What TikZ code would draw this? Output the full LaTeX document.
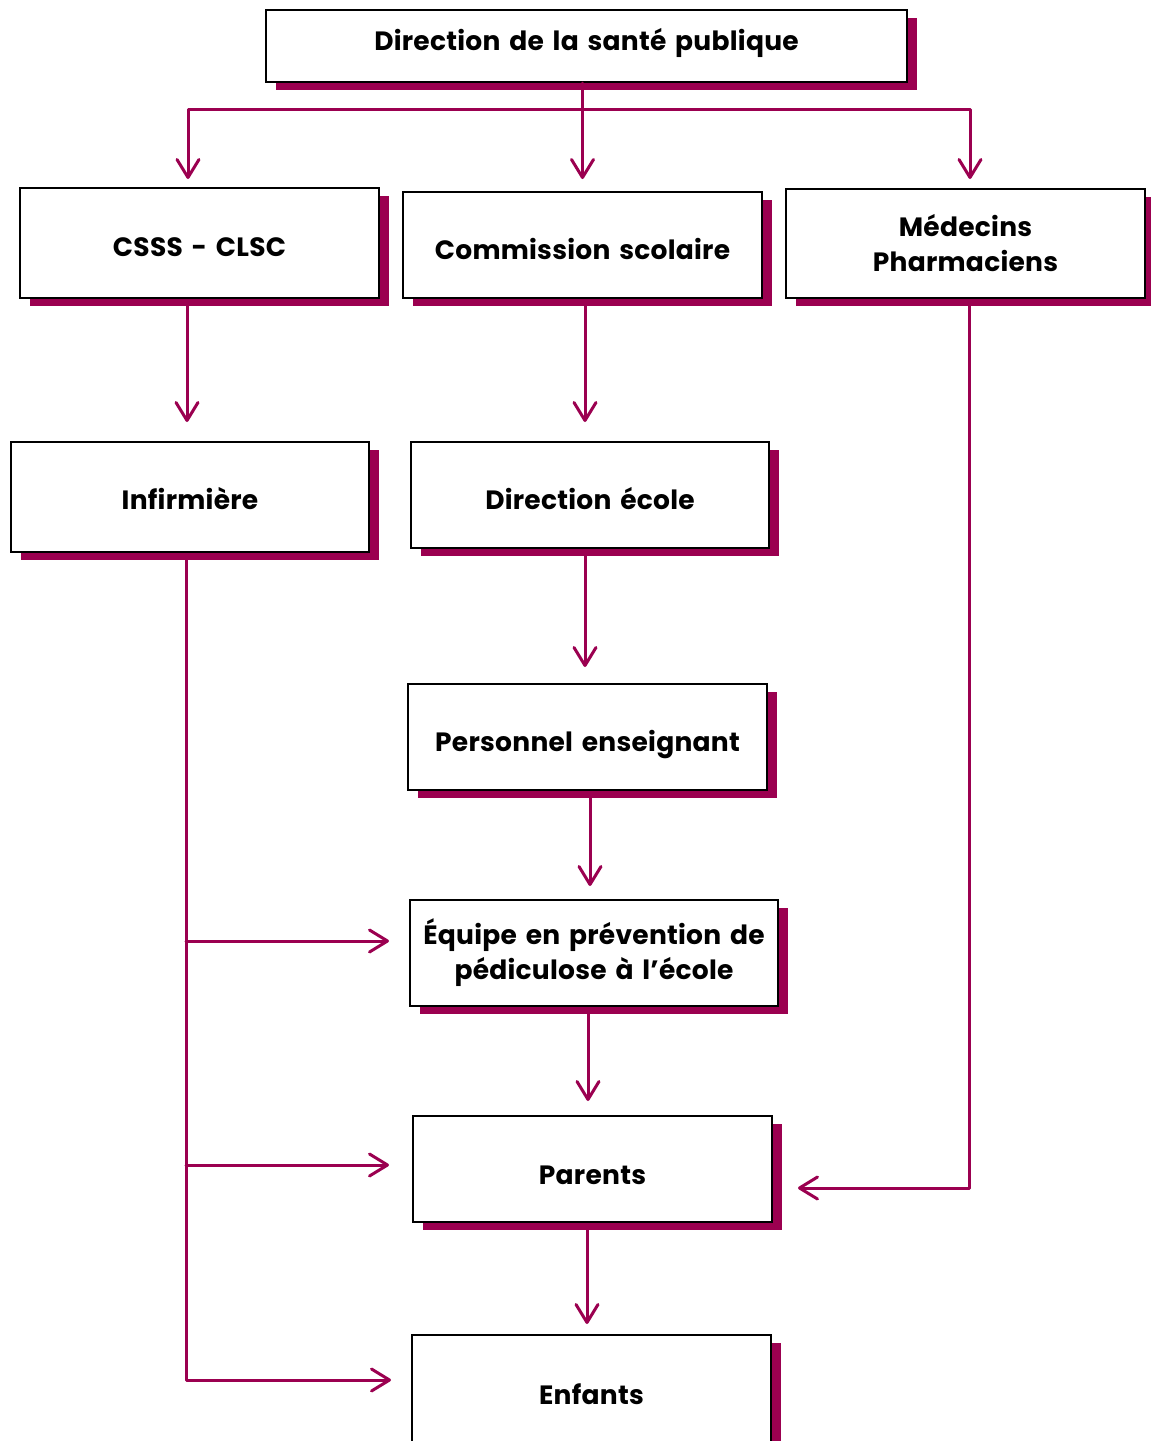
\documentclass[tikz,border=0pt]{standalone}
\usepackage{fontspec}
\setmainfont{Poppins}[WordSpace=1.5,LetterSpace=1]
\usetikzlibrary{arrows.meta,shadows}
\definecolor{plum}{RGB}{155,0,80}
\newcommand\lowtxt[2]{\raisebox{-#1}[\height][\depth]{#2}}
\begin{document}
\begin{tikzpicture}[x=1pt,y=-1pt,
  box/.style={draw=black, line width=2pt, fill=white, inner sep=0pt, align=center,
    font=\bfseries\fontsize{26.5}{35}\selectfont,
    copy shadow={shadow xshift=10pt, shadow yshift=-8pt, fill=plum, draw=none}},
  conn/.style={draw=plum, line width=3pt, line cap=round, line join=round,
    -{Straight Barb[length=18pt,width=22pt,round]}}]
\useasboundingbox (0,0) rectangle (1151,1441);
\clip (0,0) rectangle (1151,1441);
\fill[white] (0,0) rectangle (1151,1441);
% boxes
\node[box, minimum width=641pt, minimum height=72pt] (top) at (586.5,46) {\lowtxt{-3pt}{Direction de la santé publique}};
\node[box, minimum width=359pt, minimum height=110pt] (csss) at (199.5,243) {\lowtxt{4pt}{CSSS - CLSC}};
\node[box, minimum width=359pt, minimum height=106pt] (comm) at (582.5,245) {\lowtxt{4pt}{Commission scolaire}};
\node[box, minimum width=359pt, minimum height=109pt] (med) at (965.5,243.5) {Médecins\\Pharmaciens};
\node[box, minimum width=358pt, minimum height=110pt] (inf) at (190,497) {\lowtxt{2pt}{Infirmière}};
\node[box, minimum width=358pt, minimum height=106pt] (dir) at (590,495) {\lowtxt{4pt}{Direction école}};
\node[box, minimum width=359pt, minimum height=106pt] (pers) at (587.5,737) {\lowtxt{8pt}{Personnel enseignant}};
\node[box, minimum width=368pt, minimum height=106pt] (equ) at (594,953) {Équipe en prévention de\\pédiculose à l’école};
\node[box, minimum width=359pt, minimum height=106pt] (par) at (592.5,1169) {\lowtxt{6pt}{Parents}};
\node[box, minimum width=359pt, minimum height=118pt] (enf) at (591.5,1394) {Enfants};
% connectors from the top
\coordinate (tj) at ([xshift=-4.5pt,yshift=-26pt]top.south);
\draw[conn] (comm.north |- top.south) -- ([yshift=12pt]comm.north);
\draw[conn] (tj) -| ([xshift=-11.5pt,yshift=8pt]csss.north);
\draw[conn] (tj) -| ([xshift=4.5pt,yshift=9pt]med.north);
% vertical chain
\draw[conn] ([xshift=-12.5pt,yshift=-7pt]csss.south) -- ([xshift=-3pt,yshift=19pt]inf.north);
\draw[conn] ([xshift=2.5pt,yshift=-7pt]comm.south) -- ([xshift=-5pt,yshift=19pt]dir.north);
\draw[conn] ([xshift=-5pt,yshift=-7pt]dir.south) -- ([xshift=-2.5pt,yshift=16pt]pers.north);
\draw[conn] ([xshift=2.5pt,yshift=-7pt]pers.south) -- ([xshift=-4pt,yshift=13pt]equ.north);
\draw[conn] ([xshift=-6pt,yshift=-7pt]equ.south) -- ([xshift=-4.5pt,yshift=14pt]par.north);
\draw[conn] ([xshift=-5.5pt,yshift=-7pt]par.south) -- ([xshift=-4.5pt,yshift=10pt]enf.north);
% Infirmière trunk
\coordinate (trunk) at ([xshift=-4pt,yshift=-7pt]inf.south);
\coordinate (ea) at ([xshift=-20pt,yshift=12pt]equ.west);
\coordinate (pa) at ([xshift=-23pt,yshift=4pt]par.west);
\coordinate (na) at ([xshift=-20pt,yshift=14pt]enf.west);
\draw[conn] (trunk) |- (na);
\draw[conn] (trunk |- ea) -- (ea);
\draw[conn] (trunk |- pa) -- (pa);
% Médecins trunk
\draw[conn] ([xshift=3.5pt,yshift=-7pt]med.south) |- ([xshift=25pt,yshift=-19pt]par.east);
\end{tikzpicture}
\end{document}
